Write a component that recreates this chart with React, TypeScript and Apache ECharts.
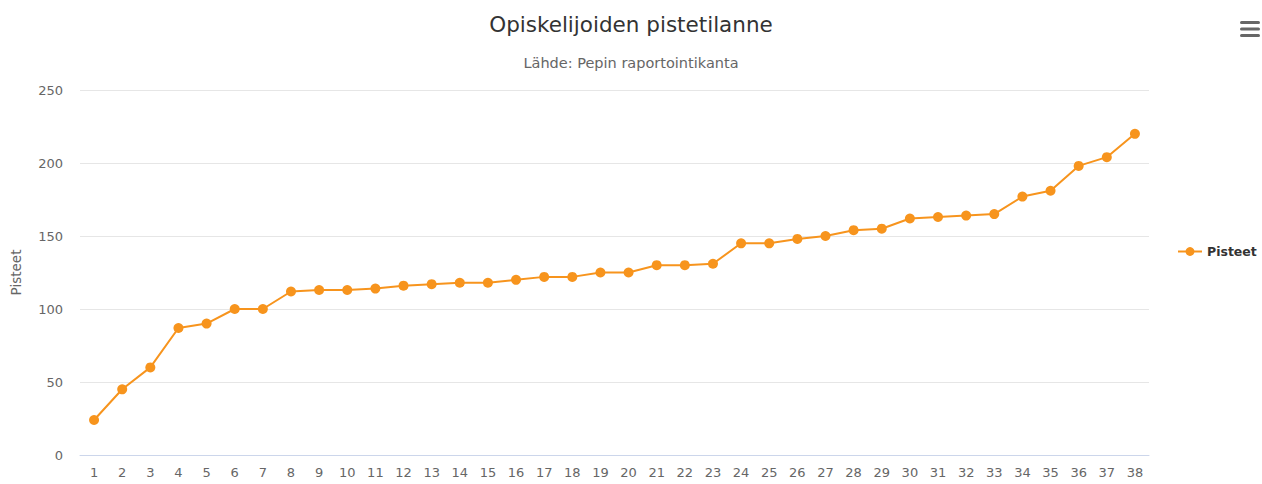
import React, { useEffect, useRef } from "react";
import * as echarts from "echarts";

const categories: string[] = Array.from({ length: 38 }, (_, i) => String(i + 1));
const pisteet: number[] = [
  24, 45, 60, 87, 90, 100, 100, 112, 113, 113, 114, 116, 117, 118, 118, 120, 122, 122, 125, 125,
  130, 130, 131, 145, 145, 148, 150, 154, 155, 162, 163, 164, 165, 177, 181, 198, 204, 220,
];
const yTicks = { min: 0, max: 250, interval: 50 };

const FONT = "'DejaVu Sans', 'Noto Sans', sans-serif";

export default function App() {
  const ref = useRef<HTMLDivElement>(null);
  useEffect(() => {
    if (!ref.current) return;
    const chart = echarts.init(ref.current, undefined, { renderer: "svg" });
    chart.setOption({
      animation: false,
      backgroundColor: "#ffffff",
      textStyle: { fontFamily: FONT },
      title: {
        text: "Opiskelijoiden pistetilanne",
        subtext: "Lähde: Pepin raportointikanta",
        left: "center",
        top: 8,
        itemGap: 20,
        textStyle: { fontFamily: FONT, fontSize: 21.5, fontWeight: "normal", color: "#333333" },
        subtextStyle: { fontFamily: FONT, fontSize: 14.5, color: "#666666" },
      },
      legend: {
        orient: "vertical",
        left: 1172,
        top: 240,
        itemWidth: 24,
        itemHeight: 11,
        itemGap: 6,
        textStyle: { fontFamily: FONT, fontSize: 12.5, fontWeight: "bold", color: "#333333" },
        data: ["Pisteet"],
      },
      grid: { left: 80, right: 113, top: 90, bottom: 29, containLabel: false, outerBoundsMode: "none" },
      xAxis: {
        type: "category",
        data: categories,
        boundaryGap: true,
        axisLine: { show: true, lineStyle: { color: "#ccd6eb" } },
        axisTick: { show: false },
        axisLabel: { color: "#666666", fontSize: 13, margin: 11, interval: 0, fontFamily: FONT },
      },
      yAxis: {
        type: "value",
        min: yTicks.min,
        max: yTicks.max,
        interval: yTicks.interval,
        name: "Pisteet",
        nameLocation: "middle",
        nameGap: 57,
        nameTextStyle: { color: "#666666", fontSize: 13.5, fontFamily: FONT },
        axisLine: { show: false },
        axisTick: { show: false },
        axisLabel: { color: "#666666", fontSize: 13, margin: 17, fontFamily: FONT },
        splitLine: { lineStyle: { color: "#e6e6e6" } },
      },
      series: [
        {
          name: "Pisteet",
          type: "line",
          data: pisteet,
          symbol: "circle",
          symbolSize: 10,
          itemStyle: { color: "#f7941d" },
          lineStyle: { color: "#f7941d", width: 2 },
        },
      ],
      graphic: [
        { type: "rect", shape: { x: 1240, y: 21, width: 20, height: 3, r: 1.5 }, style: { fill: "#666666" } },
        { type: "rect", shape: { x: 1240, y: 27.5, width: 20, height: 3, r: 1.5 }, style: { fill: "#666666" } },
        { type: "rect", shape: { x: 1240, y: 34, width: 20, height: 3, r: 1.5 }, style: { fill: "#666666" } },
      ],
    });
    return () => chart.dispose();
  }, []);
  return <div ref={ref} style={{ position: "fixed", left: 0, top: 0, width: 1262, height: 484 }} />;
}
